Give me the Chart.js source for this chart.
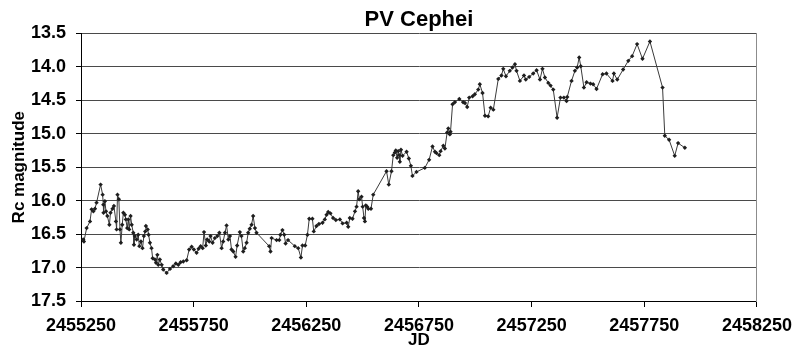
<!DOCTYPE html>
<html>
<head>
<meta charset="utf-8">
<script src="https://cdn.jsdelivr.net/npm/chart.js@4.4.0/dist/chart.umd.min.js"></script>
<style>
  html, body { margin: 0; padding: 0; background: #fff; }
</style>
</head>
<body>
<canvas id="chart" width="800" height="351"></canvas>
<script>
// PV Cephei light curve, Rc band
const jd = [
  2455260, 2455263, 2455275, 2455290, 2455297, 2455305, 2455312, 2455319, 2455337, 2455346,
  2455349, 2455350, 2455356, 2455361, 2455367, 2455376, 2455381, 2455390, 2455396, 2455405,
  2455408, 2455412, 2455418, 2455423, 2455427, 2455433, 2455438, 2455445, 2455449, 2455455,
  2455460, 2455464, 2455470, 2455475, 2455482, 2455485, 2455489, 2455497, 2455504, 2455509,
  2455516, 2455523, 2455529, 2455535, 2455538, 2455546, 2455550, 2455556, 2455563, 2455568,
  2455578, 2455583, 2455589, 2455593, 2455600, 2455608, 2455615, 2455630, 2455645, 2455659,
  2455671, 2455682, 2455692, 2455704, 2455719, 2455730, 2455741, 2455751, 2455763, 2455772,
  2455781, 2455790, 2455796, 2455804, 2455810, 2455819, 2455825, 2455834, 2455844, 2455855,
  2455864, 2455874, 2455881, 2455889, 2455896, 2455904, 2455911, 2455918, 2455926, 2455936,
  2455943, 2455955, 2455962, 2455970, 2455977, 2455985, 2455992, 2455999, 2456007, 2456014,
  2456022, 2456029, 2456085, 2456091, 2456096, 2456118, 2456130, 2456135, 2456144, 2456152,
  2456158, 2456169, 2456199, 2456214, 2456226, 2456233, 2456245, 2456255, 2456263, 2456277,
  2456283, 2456295, 2456306, 2456322, 2456332, 2456340, 2456347, 2456357, 2456369, 2456381,
  2456399, 2456411, 2456429, 2456436, 2456443, 2456455, 2456466, 2456473, 2456480, 2456485,
  2456495, 2456500, 2456506, 2456510, 2456514, 2456520, 2456525, 2456537, 2456547, 2456606,
  2456616, 2456628, 2456636, 2456643, 2456647, 2456653, 2456658, 2456662, 2456665, 2456670,
  2456677, 2456695, 2456705, 2456714, 2456721, 2456739, 2456776, 2456795, 2456810, 2456821,
  2456828, 2456840, 2456846, 2456858, 2456865, 2456875, 2456880, 2456887, 2456890, 2456899,
  2456909, 2456929, 2456946, 2456954, 2456964, 2456973, 2456988, 2456998, 2457013, 2457020,
  2457032, 2457043, 2457057, 2457068, 2457080, 2457102, 2457116, 2457124, 2457136, 2457153,
  2457165, 2457176, 2457183, 2457198, 2457216, 2457224, 2457239, 2457257, 2457272, 2457287,
  2457298, 2457309, 2457324, 2457334, 2457346, 2457363, 2457378, 2457393, 2457405, 2457408,
  2457427, 2457442, 2457452, 2457461, 2457468, 2457482, 2457494, 2457511, 2457523, 2457538,
  2457565, 2457582, 2457609, 2457615, 2457630, 2457656, 2457679, 2457696, 2457718, 2457742,
  2457775, 2457831, 2457841, 2457860, 2457885, 2457900, 2457930
];
const rcMag = [
  16.58, 16.61, 16.41, 16.31, 16.13, 16.16, 16.12, 16.03, 15.76, 15.91,
  16.06, 16.18, 16.01, 16.16, 16.23, 16.36, 16.18, 16.12, 16.08, 16.31,
  16.43, 15.91, 15.98, 16.43, 16.63, 16.36, 16.18, 16.21, 16.28, 16.41,
  16.28, 16.43, 16.23, 16.36, 16.48, 16.66, 16.53, 16.58, 16.51, 16.68,
  16.61, 16.71, 16.53, 16.46, 16.38, 16.43, 16.51, 16.63, 16.71, 16.86,
  16.88, 16.93, 16.81, 16.96, 16.88, 16.96, 17.03, 17.08, 17.02, 16.98,
  16.94, 16.96, 16.92, 16.91, 16.89, 16.73, 16.69, 16.73, 16.78, 16.72,
  16.68, 16.71, 16.47, 16.67, 16.58, 16.61, 16.53, 16.63, 16.56, 16.53,
  16.48, 16.71, 16.61, 16.48, 16.37, 16.58, 16.53, 16.73, 16.76, 16.84,
  16.67, 16.47, 16.53, 16.76, 16.71, 16.63, 16.48, 16.42, 16.36, 16.23,
  16.41, 16.48, 16.68, 16.76, 16.56, 16.59, 16.59, 16.51, 16.44, 16.51,
  16.64, 16.59, 16.68, 16.71, 16.85, 16.67, 16.67, 16.51, 16.27, 16.27,
  16.46, 16.38, 16.35, 16.33, 16.28, 16.21, 16.17, 16.19, 16.26, 16.29,
  16.28, 16.34, 16.33, 16.39, 16.26, 16.27, 16.16, 16.09, 15.86, 15.98,
  15.94, 16.09, 16.26, 16.31, 16.07, 16.09, 16.12, 16.12, 15.91, 15.56,
  15.76, 15.56, 15.32, 15.28, 15.25, 15.36, 15.26, 15.32, 15.42, 15.24,
  15.33, 15.27, 15.37, 15.48, 15.63, 15.57, 15.51, 15.39, 15.19, 15.27,
  15.29, 15.32, 15.26, 15.18, 15.22, 14.98, 14.92, 15.01, 14.97, 14.56,
  14.53, 14.48, 14.53, 14.54, 14.60, 14.46, 14.44, 14.41, 14.34, 14.26,
  14.39, 14.73, 14.74, 14.61, 14.64, 14.18, 14.13, 14.03, 14.14, 14.06,
  14.01, 13.96, 14.06, 14.21, 14.13, 14.19, 14.15, 14.10, 14.05, 14.19,
  14.03, 14.16, 14.24, 14.28, 14.34, 14.76, 14.46, 14.46, 14.51, 14.45,
  14.21, 14.06, 14.01, 13.86, 13.99, 14.31, 14.23, 14.25, 14.26, 14.33,
  14.11, 14.10, 14.21, 14.10, 14.19, 14.04, 13.91, 13.84, 13.66, 13.88,
  13.62, 14.31, 15.03, 15.09, 15.33, 15.14, 15.21
];
const xTicks = [2455250, 2455750, 2456250, 2456750, 2457250, 2457750, 2458250];
const yTicks = [13.5, 14.0, 14.5, 15.0, 15.5, 16.0, 16.5, 17.0, 17.5];

const FONT = '"Liberation Sans", Arial, sans-serif';

const points = jd.map((x, i) => ({ x: x, y: rcMag[i] }));

new Chart(document.getElementById('chart'), {
  type: 'scatter',
  data: {
    datasets: [{
      label: 'PV Cep',
      data: points,
      showLine: true,
      borderColor: '#3a3a3a',
      borderWidth: 1,
      backgroundColor: '#1e1e1e',
      pointStyle: 'rectRot',
      pointRadius: 2.2,
      pointBorderWidth: 0,
      pointHoverRadius: 2.2
    }]
  },
  options: {
    responsive: false,
    devicePixelRatio: 1,
    animation: false,
    layout: { padding: { left: 0, right: 43, top: 0, bottom: 0 } },
    plugins: {
      legend: { display: false },
      tooltip: { enabled: false },
      title: {
        display: true,
        text: 'PV Cephei',
        color: '#000',
        fullSize: false,
        font: { family: FONT, size: 22, weight: 'bold' },
        padding: { top: 7, bottom: 0 }
      }
    },
    scales: {
      x: {
        type: 'linear',
        min: 2455250,
        max: 2458250,
        afterBuildTicks: s => { s.ticks = xTicks.map(v => ({ value: v })); },
        afterFit: s => { s.height = 50; },
        ticks: {
          color: '#000',
          padding: 8,
          maxRotation: 0,
          font: { family: FONT, size: 18, weight: 'bold' },
          callback: v => String(v)
        },
        grid: { drawOnChartArea: false, drawTicks: true, tickLength: 6, color: '#000' },
        border: { color: '#000', width: 1 },
        title: {
          display: true,
          text: 'JD',
          color: '#000',
          font: { family: FONT, size: 17, weight: 'bold' },
          padding: { top: 0, bottom: 0 }
        }
      },
      y: {
        type: 'linear',
        reverse: true,
        min: 13.5,
        max: 17.5,
        afterBuildTicks: s => { s.ticks = yTicks.map(v => ({ value: v })); },
        afterFit: s => { s.width = 81; },
        ticks: {
          color: '#000',
          padding: 10,
          font: { family: FONT, size: 18, weight: 'bold' },
          callback: v => v.toFixed(1)
        },
        grid: { color: '#4a4a4a', lineWidth: 1, tickLength: 5, tickColor: '#000' },
        border: { color: '#000', width: 1 },
        title: {
          display: true,
          text: 'Rc magnitude',
          color: '#000',
          font: { family: FONT, size: 17, weight: 'bold' },
          padding: { top: 9, bottom: 0 }
        }
      },
      y2: {
        position: 'right',
        type: 'linear',
        min: 13.5,
        max: 17.5,
        afterFit: s => { s.width = 0; },
        ticks: { display: false },
        grid: { drawOnChartArea: false, drawTicks: false },
        border: { color: '#8c8c8c', width: 1 }
      }
    }
  }
});
</script>
</body>
</html>
